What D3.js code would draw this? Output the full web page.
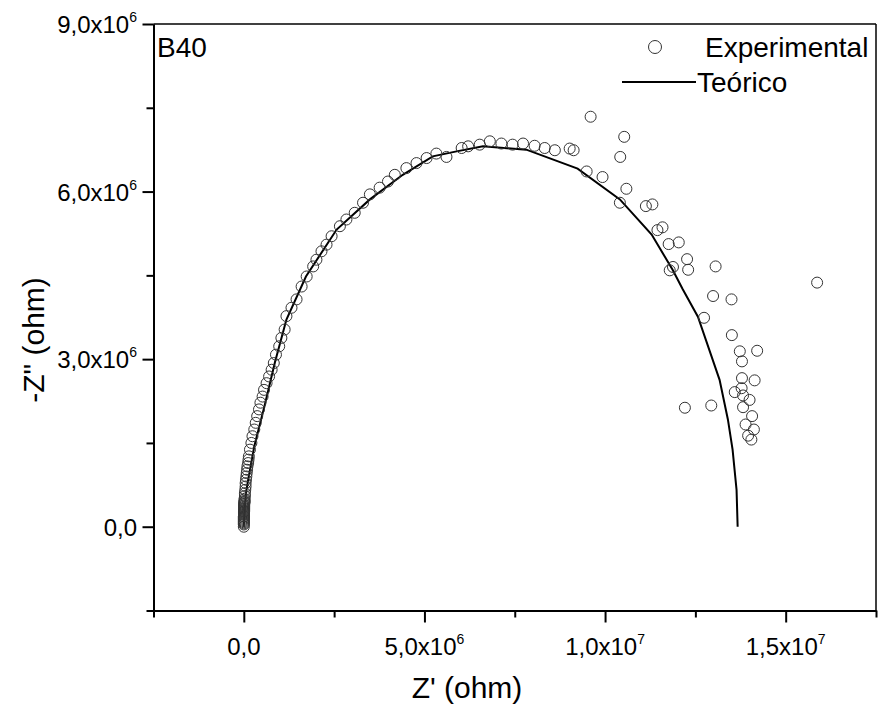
<!DOCTYPE html>
<html><head><meta charset="utf-8">
<script src="https://cdn.jsdelivr.net/npm/d3@7"></script>
<style>body{margin:0;background:#fff}</style>
</head><body><svg id="c" width="878" height="708"></svg>
<script>
// Values in units of 1e6 ohm
const expZre = [0,0,0,0,0,0,0,0,0,0.005,0.005,0.005,0.005,0.005,0.01,0.01,0.01,0.01,0.01,0.01,0.01,0.015,0.015,0.02,0.02,0.02,0.03,0.03,0.04,0.05,0.05,0.06,0.07,0.08,0.09,0.10,0.12,0.13,0.14,0.17,0.21,0.24,0.29,0.33,0.37,0.42,0.46,0.52,0.56,0.63,0.70,0.77,0.83,0.89,0.98,1.04,1.13,
  1.18,1.32,1.46,1.60,1.74,1.92,2.01,2.15,2.29,2.43,2.66,2.84,3.07,3.30,3.49,3.76,3.99,4.18,4.50,4.78,5.06,5.33,5.61,6.03,6.21,6.53,6.81,7.13,7.44,7.73,8.05,8.33,8.61,9.02,9.13,
  9.60,10.53,10.42,9.49,9.93,10.59,10.41,11.13,11.31,11.59,11.45,11.76,12.04,12.27,11.88,11.79,12.30,13.06,15.87,
  12.99,13.50,12.74,13.51,13.73,14.21,13.79,13.79,14.14,13.78,13.59,13.82,14.00,12.21,12.94,13.82,14.07,13.89,14.12,13.96,14.05];
const expZim = [0,0.04,0.06,0.08,0.10,0.12,0.14,0.16,0.18,0.19,0.21,0.23,0.25,0.27,0.28,0.30,0.32,0.34,0.36,0.38,0.40,0.42,0.44,0.45,0.47,0.50,0.55,0.60,0.66,0.72,0.78,0.84,0.90,0.96,1.02,1.08,1.14,1.20,1.26,1.38,1.50,1.62,1.74,1.86,1.98,2.10,2.22,2.33,2.45,2.57,2.69,2.81,2.93,3.08,3.23,3.38,3.53,
  3.77,3.92,4.07,4.30,4.48,4.66,4.78,4.93,5.05,5.20,5.38,5.50,5.62,5.80,5.95,6.07,6.18,6.30,6.42,6.51,6.60,6.68,6.62,6.78,6.81,6.84,6.90,6.86,6.84,6.86,6.82,6.78,6.74,6.77,6.74,
  7.34,6.98,6.62,6.36,6.26,6.05,5.80,5.74,5.77,5.36,5.31,5.06,5.09,4.79,4.65,4.59,4.60,4.66,4.37,
  4.13,4.07,3.74,3.43,3.14,3.15,2.96,2.66,2.62,2.48,2.41,2.35,2.27,2.13,2.17,2.14,1.98,1.83,1.74,1.63,1.56];
const fitZre = [0,0.01,0.03,0.06,0.12,0.29,0.57,0.86,1.18,1.72,2.57,3.49,4.40,5.23,5.89,6.62,7.82,9.24,10.41,11.29,11.87,12.15,12.57,13.17,13.40,13.53,13.64,13.67];
const fitZim = [0,0.15,0.36,0.60,0.84,1.44,2.15,2.94,3.71,4.48,5.32,5.86,6.30,6.63,6.72,6.81,6.75,6.41,5.86,5.23,4.60,4.25,3.76,2.63,1.92,1.38,0.66,0];
const xTicks = [0,5,10,15];
const xTickMant = ["0,0","5,0","1,0","1,5"];
const xTickExp = ["","6","7","7"];
const xMinor = [-2.5,2.5,7.5,12.5,17.5];
const yTicks = [0,3,6,9];
const yTickMant = ["0,0","3,0","6,0","9,0"];
const yTickExp = ["","6","6","6"];
const yMinor = [-1.5,1.5,4.5,7.5];
const seriesNames = ["Experimental","Teórico"];

const svg = d3.select("#c");
const FONT = "'Liberation Sans', Arial, sans-serif";
const L=153.5, R=876, T=24, B=610.5;
const x = d3.scaleLinear().domain([-2.5,17.5]).range([L,R]);
const y = d3.scaleLinear().domain([-1.5,9]).range([B,T]);

// frame (top & right)
svg.append("line").attr("x1",L).attr("x2",R).attr("y1",T).attr("y2",T).attr("stroke","#000").attr("stroke-width",1.5);
svg.append("line").attr("x1",R).attr("x2",R).attr("y1",T).attr("y2",B).attr("stroke","#000").attr("stroke-width",1.5);

// x axis
svg.append("g").attr("transform",`translate(0,${B})`)
  .call(d3.axisBottom(x).tickValues(xTicks).tickSize(12).tickSizeOuter(0).tickFormat(()=>""));
svg.append("g").attr("transform",`translate(0,${B})`)
  .call(d3.axisBottom(x).tickValues(xMinor).tickSize(7).tickSizeOuter(0).tickFormat(()=>""));
// y axis
svg.append("g").attr("transform",`translate(${L},0)`)
  .call(d3.axisLeft(y).tickValues(yTicks).tickSize(11).tickSizeOuter(0).tickFormat(()=>""));
svg.append("g").attr("transform",`translate(${L},0)`)
  .call(d3.axisLeft(y).tickValues(yMinor).tickSize(7).tickSizeOuter(0).tickFormat(()=>""));
svg.selectAll(".domain, .tick line").attr("stroke","#000").attr("stroke-width",2);

// tick labels
xTicks.forEach((v,i)=>{
  const t = svg.append("text").attr("x",x(v)).attr("y",655).attr("text-anchor","middle")
    .attr("font-family",FONT).attr("font-size",24).attr("fill","#000");
  t.append("tspan").text(xTickMant[i] + (xTickExp[i] ? "x10" : ""));
  if (xTickExp[i]) t.append("tspan").attr("dy",-11).attr("font-size",14).text(xTickExp[i]);
});
yTicks.forEach((v,i)=>{
  const t = svg.append("text").attr("x",137).attr("y",y(v)+9).attr("text-anchor","end")
    .attr("font-family",FONT).attr("font-size",24).attr("fill","#000");
  t.append("tspan").text(yTickMant[i] + (yTickExp[i] ? "x10" : ""));
  if (yTickExp[i]) t.append("tspan").attr("dy",-11).attr("font-size",14).text(yTickExp[i]);
});

// axis titles
svg.append("text").attr("x",467).attr("y",698).attr("text-anchor","middle")
  .attr("font-family",FONT).attr("font-size",30).text("Z' (ohm)");
svg.append("text").attr("transform","translate(44,340) rotate(-90)").attr("text-anchor","middle")
  .attr("font-family",FONT).attr("font-size",30).text('-Z" (ohm)');

// theoretical line
const fit = fitZre.map((v,i)=>[v,fitZim[i]]);
svg.append("path").datum(fit)
  .attr("d", d3.line().x(d=>x(d[0])).y(d=>y(d[1])))
  .attr("fill","none").attr("stroke","#000").attr("stroke-width",2);

// experimental points
const exp = expZre.map((v,i)=>[v,expZim[i]]);
svg.append("g").selectAll("circle").data(exp).join("circle")
  .attr("cx",d=>x(d[0])).attr("cy",d=>y(d[1])).attr("r",5.5)
  .attr("fill","none").attr("stroke","#333").attr("stroke-width",1);

// label & legend
svg.append("text").attr("x",157).attr("y",57).attr("font-family",FONT).attr("font-size",28).text("B40");
svg.append("circle").attr("cx",655).attr("cy",47).attr("r",6.5).attr("fill","none").attr("stroke","#333").attr("stroke-width",1);
svg.append("text").attr("x",705).attr("y",57).attr("font-family",FONT).attr("font-size",28).text(seriesNames[0]);
svg.append("line").attr("x1",622).attr("x2",696).attr("y1",82).attr("y2",82).attr("stroke","#000").attr("stroke-width",2);
svg.append("text").attr("x",697).attr("y",92).attr("font-family",FONT).attr("font-size",28).text(seriesNames[1]);
</script></body></html>
